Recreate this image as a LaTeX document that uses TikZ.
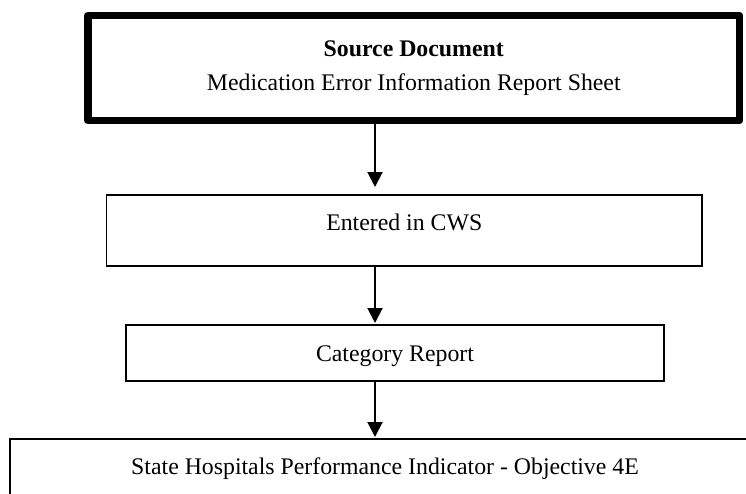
\documentclass[tikz,border=0pt]{standalone}
\usepackage{fontspec}
\setmainfont{Liberation Serif}
\usetikzlibrary{arrows.meta}
\begin{document}
\begin{tikzpicture}[x=1pt,y=-1pt,
  box/.style={draw, line width=1.8pt, outer sep=0pt, inner sep=0pt,
    font=\fontsize{23.8pt}{34pt}\selectfont},
  arr/.style={line width=2pt, -{Triangle[width=15pt,length=15pt]}}]
\useasboundingbox (0,0) rectangle (746,493);
\clip (0,0) rectangle (746,493);
\node[box, line width=7.5pt, line join=round, minimum width=651.5pt,
  minimum height=105pt, align=center] (src) at (413.75,68)
  {\textbf{Source Document}\\Medication Error Information Report Sheet};
\node[box, minimum width=595.5pt, minimum height=71pt,
  text height=15pt, text depth=15pt] (cws) at (404.25,230.5) {Entered in CWS};
\node[box, line width=2pt, minimum width=538pt, minimum height=56pt,
  text height=16pt, text depth=0pt] (cat) at (395,353) {Category Report};
\node[box, line width=2pt, minimum width=750pt, minimum height=58pt,
  text height=12pt, text depth=0pt] (shpi) at (385,468)
  {State Hospitals Performance Indicator - Objective 4E};
\coordinate (ax) at (375,0);
\draw[arr, shorten >=8pt] (src.south -| ax) -- (cws.north -| ax);
\draw[arr, shorten >=2pt] (cws.south -| ax) -- (cat.north -| ax);
\draw[arr, shorten >=2pt] (cat.south -| ax) -- (shpi.north -| ax);
\end{tikzpicture}
\end{document}
